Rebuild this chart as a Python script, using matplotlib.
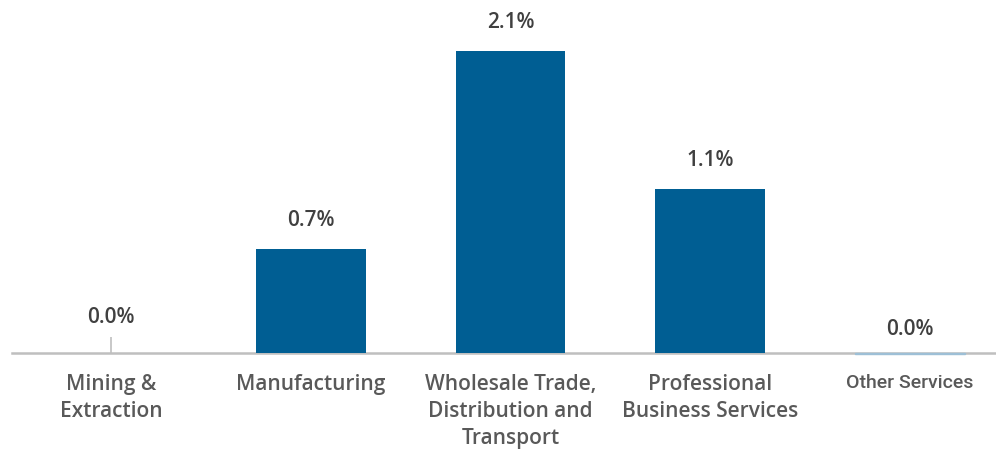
import matplotlib
matplotlib.use('Agg')
import matplotlib.pyplot as plt

categories = ['Mining &\nExtraction', 'Manufacturing', 'Wholesale Trade,\nDistribution and\nTransport',
              'Professional\nBusiness Services', 'Other Services']
values = [0.0, 0.72, 2.10, 1.14, -0.01]

plt.rcParams['font.family'] = ['Open Sans', 'DejaVu Sans']

bar_color = '#005e93'
label_color = '#595959'
value_color = '#404040'

fig = plt.figure(figsize=(9.96, 4.54), dpi=100)
ax = fig.add_axes([12 / 996, 93.8 / 454, 1 - 12 / 996, 360.2 / 454])

x = list(range(len(categories)))
bars = ax.bar(x, values, width=0.55, color=bar_color, zorder=2)
bars[-1].set_color('#9dbfd6')

ax.set_xlim(-0.495, 4.43)
ax.set_ylim(-0.05, 2.455)

for s in ['top', 'right', 'left']:
    ax.spines[s].set_visible(False)
ax.spines['bottom'].set_position(('data', 0))
ax.spines['bottom'].set_color('#bfbfbf')
ax.spines['bottom'].set_linewidth(1.8)
ax.spines['bottom'].set_zorder(1)
ax.set_yticks([])

ax.set_xticks(x)
ax.set_xticklabels(categories, fontsize=15, fontweight='semibold', color=label_color, linespacing=1.38)
ax.tick_params(axis='x', which='major', length=0, pad=15)
ax.xaxis.remove_overlapping_locs = False
ax.set_xticks([0], minor=True)
ax.tick_params(axis='x', which='minor', direction='in', length=11.5, width=1.2, color='#bfbfbf')

# last label is set in a narrower face in the original
last = ax.get_xticklabels()[-1]
last.set_fontfamily(['Roboto', 'Open Sans'])
last.set_fontweight('medium')
last.set_fontsize(14)

offsets = {0: 25, 4: 13}
for i, v in enumerate(values):
    off = offsets.get(i, 18) * 0.72
    ax.annotate('%.1f%%' % abs(v), (i, max(v, 0)), xytext=(0, off), textcoords='offset points',
                ha='center', va='bottom', fontsize=15, fontweight='semibold', color=value_color)

fig.savefig('out.png', dpi=100)
